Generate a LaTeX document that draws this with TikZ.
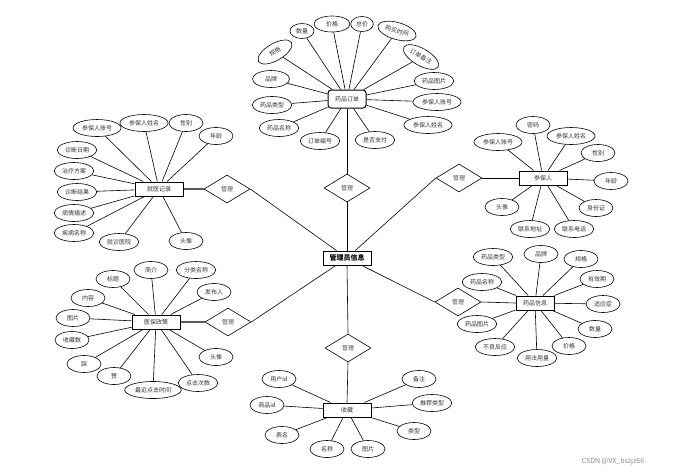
\documentclass[tikz,border=0pt]{standalone}
\usepackage{fontspec}
\newfontfamily\cjk{Noto Sans CJK SC}
\usetikzlibrary{shapes.geometric}
\begin{document}
\begin{tikzpicture}[x=1pt,y=-1pt,
 attr/.style={ellipse,draw,line width=0.6pt,minimum width=34pt,minimum height=17pt,inner xsep=2pt,inner ysep=0.5pt,font=\cjk\fontsize{6}{7}\selectfont,text=black!80},
 ent/.style={rectangle,draw,line width=1pt,minimum width=48pt,minimum height=14pt,inner sep=1pt,font=\cjk\fontsize{6}{7}\selectfont,text=black!80},
 rel/.style={diamond,draw,line width=0.6pt,minimum width=46pt,minimum height=28pt,aspect=1.6,inner sep=0pt,font=\cjk\fontsize{6}{7}\selectfont,text=black!70},
 conn/.style={line width=0.6pt},
 thk/.style={line width=1.6pt,draw=black!65}]
\useasboundingbox[fill=white] (0,0) rectangle (690,475);

% centre
\node[ent,font=\cjk\bfseries\fontsize{7}{8}\selectfont,text=black] (c) at (347,258) {管理员信息};

% relations
\node[rel] (rt) at (347,188) {管理};
\node[rel] (rl1) at (227,189) {管理};
\node[rel] (rr1) at (459,178) {管理};
\node[rel] (rl2) at (228,322) {管理};
\node[rel] (rr2) at (458,302) {管理};
\node[rel] (rb) at (348,348) {管理};

% entities
\node[ent,rounded corners=3pt,minimum width=38pt,minimum height=18pt] (o) at (347,99) {药品订单};
\node[ent] (jy) at (159,189) {就医记录};
\node[ent] (cb) at (543,178) {参保人};
\node[ent] (yb) at (156,322) {医保政策};
\node[ent,minimum width=38pt] (yp) at (535,303) {药品信息};
\node[ent] (fav) at (347,410) {收藏};

% order attributes
\node[attr,rotate=30,minimum width=38pt] (o1) at (275,52) {规格};
\node[attr,minimum width=24pt,minimum height=15pt] (o2) at (302,31) {数量};
\node[attr,minimum width=36pt,minimum height=16pt] (o3) at (332,24) {价格};
\node[attr,minimum width=22pt,minimum height=15pt] (o4) at (362,24) {总价};
\node[attr,rotate=-16] (o5) at (397,31) {购买时间};
\node[attr,rotate=-30] (o6) at (421,57) {订单备注};
\node[attr] (o7) at (434,81) {药品图片};
\node[attr] (o8) at (437,102) {参保人账号};
\node[attr] (o9) at (428,125) {参保人姓名};
\node[attr,minimum width=37pt] (o10) at (271,79) {品牌};
\node[attr] (o11) at (272,105) {药品类型};
\node[attr] (o12) at (279,128) {药品名称};
\node[attr] (o13) at (320,141) {订单编号};
\node[attr] (o14) at (375,140) {是否支付};

% medical record attributes
\node[attr] (j1) at (97,128) {参保人账号};
\node[attr] (j2) at (144,123) {参保人姓名};
\node[attr] (j3) at (186,123) {性别};
\node[attr] (j4) at (216,136) {年龄};
\node[attr] (j5) at (77,150) {诊断日期};
\node[attr] (j6) at (74,171) {治疗方案};
\node[attr] (j7) at (77,192) {诊断结果};
\node[attr] (j8) at (74,213) {病情描述};
\node[attr] (j9) at (74,233) {疾病名称};
\node[attr] (j10) at (119,242) {就诊医院};
\node[attr] (j11) at (186,241) {头像};

% insured person attributes
\node[attr] (p1) at (533,125) {密码};
\node[attr] (p2) at (498,142) {参保人账号};
\node[attr] (p3) at (571,136) {参保人姓名};
\node[attr] (p4) at (598,153) {性别};
\node[attr] (p5) at (611,181) {年龄};
\node[attr] (p6) at (596,208) {身份证};
\node[attr] (p7) at (502,207) {头像};
\node[attr] (p8) at (530,229) {联系地址};
\node[attr] (p9) at (574,229) {联系电话};

% policy attributes
\node[attr] (y1) at (151,270) {简介};
\node[attr] (y2) at (196,270) {分类名称};
\node[attr] (y3) at (113,279) {标题};
\node[attr] (y4) at (214,292) {发布人};
\node[attr] (y5) at (88,298) {内容};
\node[attr] (y6) at (73,318) {图片};
\node[attr] (y7) at (72,340) {收藏数};
\node[attr] (y8) at (84,364) {踩};
\node[attr] (y9) at (114,376) {赞};
\node[attr] (y10) at (153,390) {最近点击时间};
\node[attr] (y11) at (198,383) {点击次数};
\node[attr] (y12) at (216,357) {头像};

% drug info attributes
\node[attr] (d1) at (493,257) {药品类型};
\node[attr] (d2) at (541,254) {品牌};
\node[attr] (d3) at (581,259) {规格};
\node[attr] (d4) at (482,282) {药品名称};
\node[attr] (d5) at (597,279) {有效期};
\node[attr] (d6) at (603,304) {适应症};
\node[attr] (d7) at (595,329) {数量};
\node[attr] (d8) at (569,346) {价格};
\node[attr] (d9) at (537,358) {用法用量};
\node[attr] (d10) at (495,347) {不良反应};
\node[attr] (d11) at (477,324) {药品图片};

% favourites attributes
\node[attr] (f1) at (279,379) {用户id};
\node[attr] (f2) at (267,405) {商品id};
\node[attr] (f3) at (282,435) {表名};
\node[attr] (f4) at (327,449) {名称};
\node[attr] (f5) at (368,449) {图片};
\node[attr] (f6) at (419,379) {备注};
\node[attr] (f7) at (432,403) {推荐类型};
\node[attr] (f8) at (414,431) {类型};

% attribute connectors
\foreach \i in {1,...,14} \draw[conn] (o\i) -- (o);
\foreach \i in {1,...,11} \draw[conn] (j\i) -- (jy);
\foreach \i in {1,...,9} \draw[conn] (p\i) -- (cb);
\foreach \i in {1,...,12} \draw[conn] (y\i) -- (yb);
\foreach \i in {1,...,11} \draw[conn] (d\i) -- (yp);
\foreach \i in {1,...,8} \draw[conn] (f\i) -- (fav);

% relation connectors
\draw[conn] (o) -- (rt.north);
\draw[conn] (rt.south) -- (c.north);
\draw[conn] (rl1.east) -- (c);
\draw[conn] (rl2.east) -- (c);
\draw[conn] (rr1.west) -- (c);
\draw[conn] (rr2.west) -- (c);
\draw[conn] (c.south) -- (rb.north);
\draw[conn] (rb.south) -- (fav.north);
\draw[thk] (jy.east) -- (rl1.west);
\draw[thk] (yb.east) -- (rl2.west);
\draw[conn] (rr1.east) -- (cb.west);
\draw[conn] (rr2.east) -- (yp.west);

% watermark
\node[font=\cjk\fontsize{7}{8}\selectfont,text=black!45] (wm) at (613,462) {CSDN @VX\_bszjz66};
\end{tikzpicture}
\end{document}
